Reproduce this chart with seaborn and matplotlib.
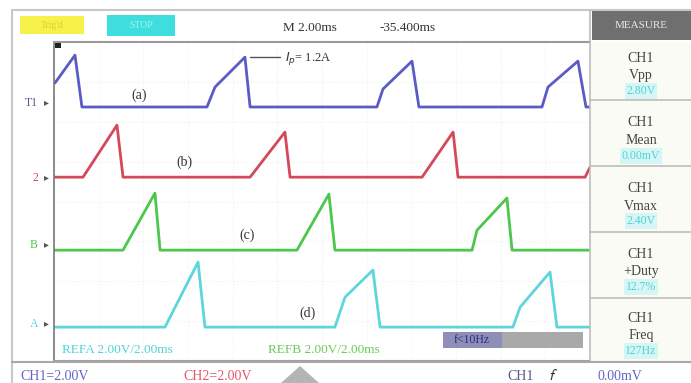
import numpy as np
import pandas as pd
import matplotlib
matplotlib.use("Agg")
import matplotlib.pyplot as plt
import seaborn as sns
from matplotlib.patches import Rectangle, Polygon
from matplotlib.lines import Line2D

sns.set_theme(style="white")
plt.rcParams['font.family'] = ['Liberation Serif', 'DejaVu Serif']

# ---------------- data (time in ms, voltage in V relative to channel ground) ----------------
t_a = [0.04, 0.94, 1.25, 6.85, 7.21, 8.55, 8.78, 14.46, 14.73, 16.03, 16.34, 21.85, 22.12, 23.46, 23.82, 24.0]
v_a = [1.20, 2.60, 0.00, 0.00, 1.00, 2.50, 0.00, 0.00, 0.90, 2.30, 0.00, 0.00, 1.00, 2.30, 0.00, 0.00]

t_b = [0.04, 1.30, 2.82, 3.09, 8.78, 10.34, 10.57, 16.48, 17.87, 18.09, 23.78, 24.0]
v_b = [0.00, 0.00, 2.61, 0.00, 0.00, 2.26, 0.00, 0.00, 2.26, 0.00, 0.00, 0.50]

t_c = [0.04, 3.09, 4.52, 4.75, 10.88, 12.31, 12.58, 18.72, 18.94, 20.28, 20.51, 24.0]
v_c = [0.00, 0.00, 2.86, 0.00, 0.00, 2.81, 0.00, 0.00, 1.00, 2.61, 0.00, 0.00]

t_d = [0.04, 4.97, 6.45, 6.76, 12.58, 13.03, 14.28, 14.60, 20.55, 20.87, 22.21, 22.52, 24.0]
v_d = [0.00, 0.00, 3.26, 0.00, 0.00, 1.50, 2.86, 0.00, 0.00, 1.00, 2.76, 0.00, 0.00]

channels = ["(a)", "(b)", "(c)", "(d)"]
channel_marks = ["T1", "2", "B", "A"]
offsets_div = [6.37, 4.61, 2.78, 0.85]
volts_per_div = 2.0

menu_titles = ["Vpp", "Mean", "Vmax", "+Duty", "Freq"]
menu_values = ["2.80V", "0.00mV", "2.40V", "12.7%", "127Hz"]

colors = ["#5b5bc6", "#d4485a", "#4cc64c", "#5cd6dc"]

rows = []
for name, t, v, off in zip(channels, [t_a, t_b, t_c, t_d], [v_a, v_b, v_c, v_d], offsets_div):
    for ti, vi in zip(t, v):
        rows.append({"channel": name, "time_ms": ti, "y_div": off + vi / volts_per_div})
df = pd.DataFrame(rows)

# ---------------- figure ----------------
W, H = 691, 383
fig = plt.figure(figsize=(W / 100, H / 100), dpi=100)
fig.patch.set_facecolor("white")

def fx(x):
    return x / W

def fy(y):
    return 1 - y / H

def rect(x0, y0, x1, y1, **kw):
    fig.add_artist(Rectangle((fx(x0), fy(y1)), (x1 - x0) / W, (y1 - y0) / H,
                             transform=fig.transFigure, **kw))

def hline(x0, x1, y, **kw):
    fig.add_artist(Line2D([fx(x0), fx(x1)], [fy(y), fy(y)], transform=fig.transFigure, **kw))

def vline(x, y0, y1, **kw):
    fig.add_artist(Line2D([fx(x), fx(x)], [fy(y0), fy(y1)], transform=fig.transFigure, **kw))

def txt(x, y, s, **kw):
    kw.setdefault("ha", "center")
    kw.setdefault("va", "center")
    fig.text(fx(x), fy(y), s, **kw)

# right menu panel background
rect(590, 42, 691, 362, facecolor="#fbfbf6", edgecolor="none")

ax = fig.add_axes([fx(54), fy(361), (590 - 54) / W, (361 - 42) / H])
ax.set_facecolor("white")
ax.set_xlim(0, 24)
ax.set_ylim(0, 8)
ax.set_xticks(np.arange(0, 24.1, 2))
ax.set_yticks(np.arange(0, 8.1, 1))
ax.grid(True, color="#f0f0f0", linestyle=":", linewidth=0.8)
ax.tick_params(length=0, labelbottom=False, labelleft=False)
ax.spines["right"].set_visible(False)
ax.spines["left"].set_color("#777777")
ax.spines["left"].set_linewidth(1.2)
ax.spines["top"].set_color("#9a9a9a")
ax.spines["top"].set_linewidth(1.5)
ax.spines["bottom"].set_color("#a0a0a0")
ax.spines["bottom"].set_linewidth(1.5)

sns.lineplot(data=df, x="time_ms", y="y_div", hue="channel", palette=colors,
             estimator=None, sort=False, linewidth=2.0, legend=False, ax=ax)
ax.set_xlabel("")
ax.set_ylabel("")

# outer frame
vline(12, 10, 383, color="#c8c8c8", lw=1.5)
hline(12, 691, 10, color="#c8c8c8", lw=1.5)
vline(590, 10, 362, color="#bdbdbd", lw=1.2)
hline(12, 691, 362, color="#a8a8a8", lw=1.5)

# top bar
rect(20, 16, 84, 34, facecolor="#f6f24a", edgecolor="none")
txt(52, 25, "Trig'd", fontsize=7, color="#d8cf30")
rect(107, 15, 175, 36, facecolor="#3fdede", edgecolor="none")
txt(141, 25, "STOP", fontsize=7, color="#9ff2f2")
txt(310, 28, "M 2.00ms", fontsize=9.5, color="#333333")
txt(408, 28, "-35.400ms", fontsize=9.5, color="#333333")
rect(592, 10, 691, 40, facecolor="#6f6f6f", edgecolor="none")
txt(641, 26, "MEASURE", fontsize=8, color="#e8e8e8")

# trigger square marker
rect(55, 43, 61, 48, facecolor="#222222", edgecolor="none")

# menu entries
tops = [58, 123, 188, 254, 318]
for tp, name, val in zip(tops, menu_titles, menu_values):
    txt(641, tp, "CH1", fontsize=10, color="#444444")
    txt(641, tp + 18, name, fontsize=10, color="#444444")
    txt(641, tp + 33, val, fontsize=8.5, color="#4fd2d8",
        bbox=dict(boxstyle="square,pad=0.15", facecolor="#d6f6f6", edgecolor="none"))
for ysep in [100, 166, 232, 298]:
    hline(590, 691, ysep, color="#bdbdbd", lw=1.2)

# channel markers on left
mark_y = [103, 178, 245, 324]
for mk, yy, col in zip(channel_marks, mark_y, colors):
    txt(38, yy, mk, fontsize=8.5, color="#555599" if mk == "T1" else col, ha="right")
    txt(46, yy, "\u25b8", fontsize=7, color="#555555")

# waveform labels
for lab, (lx, ly) in zip(channels, [(139, 95), (184, 162), (247, 235), (307, 313)]):
    txt(lx, ly, lab, fontsize=10, color="#333333")

# Ip annotation
hline(250, 280, 57, color="#555555", lw=1.0)
txt(285, 59, r"$I_p$= 1.2A", fontsize=9, color="#333333", ha="left")

# reference labels
txt(62, 350, "REFA 2.00V/2.00ms", fontsize=9.5, color="#4fd2d8", ha="left")
txt(268, 350, "REFB 2.00V/2.00ms", fontsize=9.5, color="#66cc55", ha="left")

# f<10Hz box
rect(443, 332, 583, 348, facecolor="#a9a9a9", edgecolor="none")
rect(443, 332, 502, 348, facecolor="#8e8eb8", edgecolor="none")
txt(472, 340, "f<10Hz", fontsize=8.5, color="#2a2a7a")

# bottom row
txt(20, 376, "CH1=2.00V", fontsize=10, color="#6464c8", ha="left")
txt(183, 376, "CH2=2.00V", fontsize=10, color="#e0586a", ha="left")
fig.add_artist(Polygon([[fx(281), fy(383)], [fx(300), fy(366)], [fx(319), fy(383)]],
                       closed=True, transform=fig.transFigure, facecolor="#b4b4b4", edgecolor="none"))
txt(507, 376, "CH1", fontsize=10, color="#555588", ha="left")
txt(553, 375, r"$\mathcal{f}$", fontsize=11, color="#333333")
txt(597, 376, "0.00mV", fontsize=10, color="#6464c8", ha="left")

fig.savefig("out.png", dpi=100, facecolor="white")
